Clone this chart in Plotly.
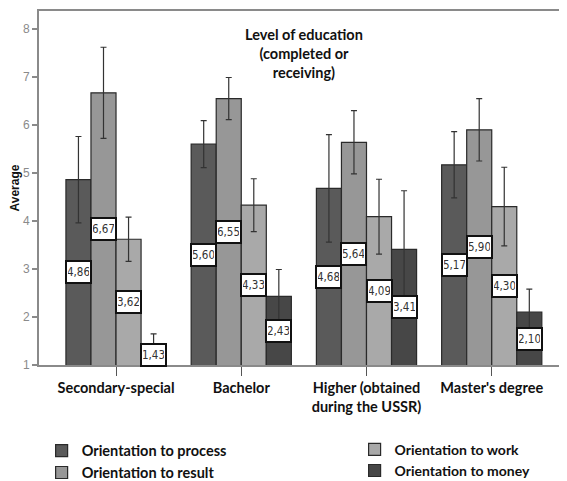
import plotly.graph_objects as go

categories = ["Secondary-special", "Bachelor", "Higher (obtained<br>during the USSR)", "Master's degree"]
series_names = ["Orientation to process", "Orientation to result", "Orientation to work", "Orientation to money"]
process = [4.86, 5.60, 4.68, 5.17]
result = [6.67, 6.55, 5.64, 5.90]
work = [3.62, 4.33, 4.09, 4.30]
money = [1.43, 2.43, 3.41, 2.10]
process_err = [0.90, 0.49, 1.12, 0.69]
result_err = [0.95, 0.44, 0.66, 0.65]
work_err = [0.46, 0.55, 0.78, 0.82]
money_err = [0.22, 0.56, 1.22, 0.48]
y_ticks = [1, 2, 3, 4, 5, 6, 7, 8]

values = [process, result, work, money]
errors = [process_err, result_err, work_err, money_err]
colors = ["#5a5a5a", "#979797", "#a9a9a9", "#474747"]
legends = ["legend", "legend", "legend2", "legend2"]

AXIS_BASE = 1
n_series = len(values)
bargap = 0.2
bar_w = (1 - bargap) / n_series

fig = go.Figure()
for j, (name, vals, errs) in enumerate(zip(series_names, values, errors)):
    fig.add_trace(go.Bar(
        x=list(range(len(categories))), y=vals, name=f"<b>{name}</b>",
        marker=dict(color=colors[j], line=dict(color="#2a2a2a", width=1.2)),
        error_y=dict(type="data", array=errs, symmetric=True, color="#333333", thickness=1.2, width=3),
        legend=legends[j],
    ))
    for i, v in enumerate(vals):
        fig.add_annotation(
            x=i + (j - (n_series - 1) / 2) * bar_w, y=(AXIS_BASE + v) / 2,
            xref="x", yref="y", text=f"{v:.2f}".replace(".", ","), showarrow=False,
            font=dict(family="Liberation Sans Narrow, DejaVu Sans Condensed, Liberation Sans", size=11.5, color="#333333"),
            bgcolor="white", bordercolor="#111111", borderwidth=2, borderpad=1,
            width=21, height=18,
        )

fig.add_annotation(
    x=0.504, y=0.964, xref="paper", yref="paper", xanchor="center", yanchor="top",
    text="<b>Level of education<br>(completed or<br>receiving)</b>", showarrow=False,
    font=dict(family="Lato", size=14.5, color="#111111"),
)

# page body has an 8px default margin, so the figure is sized/offset to compensate
fig.update_layout(
    width=559, height=473,
    margin=dict(l=31, r=2, t=3, b=116, autoexpand=False),
    paper_bgcolor="white", plot_bgcolor="white",
    barmode="group", bargap=bargap, bargroupgap=0,
    font=dict(family="Lato", color="#111111"),
    xaxis=dict(
        range=[-0.615, 3.585], tickvals=list(range(len(categories))), ticktext=[f"<b>{c}</b>" for c in categories],
        tickfont=dict(family="Lato", size=14.5, color="#111111"),
        ticks="outside", ticklen=9, tickcolor="#555555", tickwidth=1.2,
        showline=True, linecolor="#8a8a8a", linewidth=2, mirror=True, showgrid=False, zeroline=False,
    ),
    yaxis=dict(
        range=[1, 8.375], tickvals=y_ticks,
        tickfont=dict(family="Liberation Sans", size=12, color="#8a8a8a"),
        ticks="outside", ticklen=5, tickcolor="#8a8a8a", tickwidth=1.5,
        showline=True, linecolor="#8a8a8a", linewidth=2, showgrid=False, zeroline=False,
        title=dict(text="<b>Average</b>", font=dict(family="Liberation Sans", size=12, color="#111111"), standoff=6),
    ),
    legend=dict(x=0.005, y=-0.197, xanchor="left", yanchor="top", orientation="v",
                font=dict(family="Lato", size=14.5, color="#111111"), bgcolor="rgba(0,0,0,0)", tracegroupgap=0),
    legend2=dict(x=0.600, y=-0.194, xanchor="left", yanchor="top", orientation="v",
                 font=dict(family="Lato", size=14, color="#111111"), bgcolor="rgba(0,0,0,0)", tracegroupgap=0),
)

fig.write_html("out.html")
